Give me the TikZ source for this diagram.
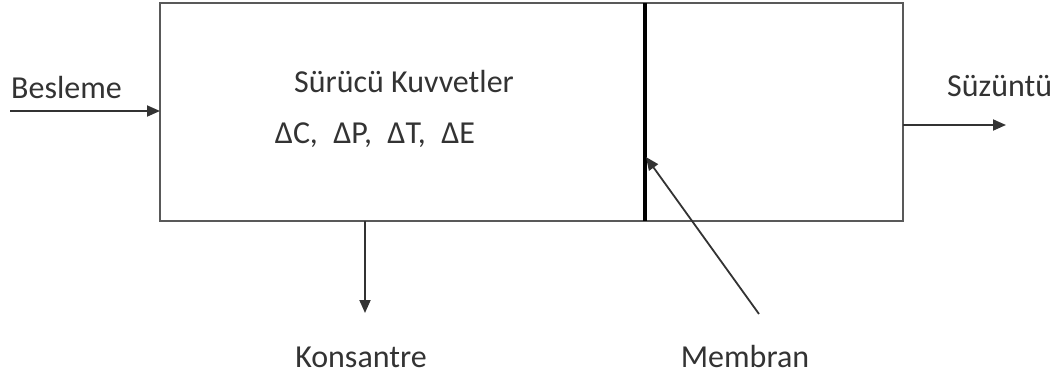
\documentclass[tikz,border=0pt]{standalone}
\usepackage{fontspec}
\setmainfont{Carlito}
\usetikzlibrary{arrows.meta}
\begin{document}
\begin{tikzpicture}[x=1pt,y=-1pt,
  lbl/.style={inner sep=0pt, font=\fontsize{32}{38}\selectfont, text=black!80},
  flow/.style={line width=1.8pt, draw=black!80, -{Triangle[length=13pt,width=11pt]}},
  boxline/.style={line width=2.4pt, draw=black!65}]
\useasboundingbox (0,0) rectangle (1058,381);
\coordinate (tl) at (160,3);
\coordinate (br) at (903,221);
\draw[boxline] (tl) rectangle (br);
\coordinate (mtop) at (645,3);
\coordinate (mbot) at (645,221);
\draw[line width=4pt, draw=black] (mtop) -- (mbot);
% feed
\coordinate (feedstart) at (10,111);
\coordinate (feedend) at (160,111);
\draw[flow] (feedstart) -- (feedend);
\node[lbl, anchor=west] (besleme) at (11,88) {Besleme};
% permeate
\coordinate (permstart) at (903,125);
\coordinate (permend) at (1006,125);
\draw[flow] (permstart) -- (permend);
\node[lbl, anchor=west] (suzuntu) at (947,86) {Süzüntü};
% concentrate
\coordinate (constart) at (365,221);
\coordinate (conend) at (365,313);
\draw[flow] (constart) -- (conend);
\node[lbl] (konsantre) at (361,357) {Konsantre};
% membrane pointer
\coordinate (memstart) at (759,314);
\coordinate (memend) at (646,157);
\draw[flow] (memstart) -- (memend);
\node[lbl] (membran) at (745,357) {Membran};
% inside texts
\node[lbl] (surucu) at (404,82) {Sürücü Kuvvetler};
\node[lbl] (deltas) at (375,135) {ΔC,\ \ \kern1pt ΔP,\ \ \kern1pt ΔT,\ \ \kern1pt ΔE};
\end{tikzpicture}
\end{document}
